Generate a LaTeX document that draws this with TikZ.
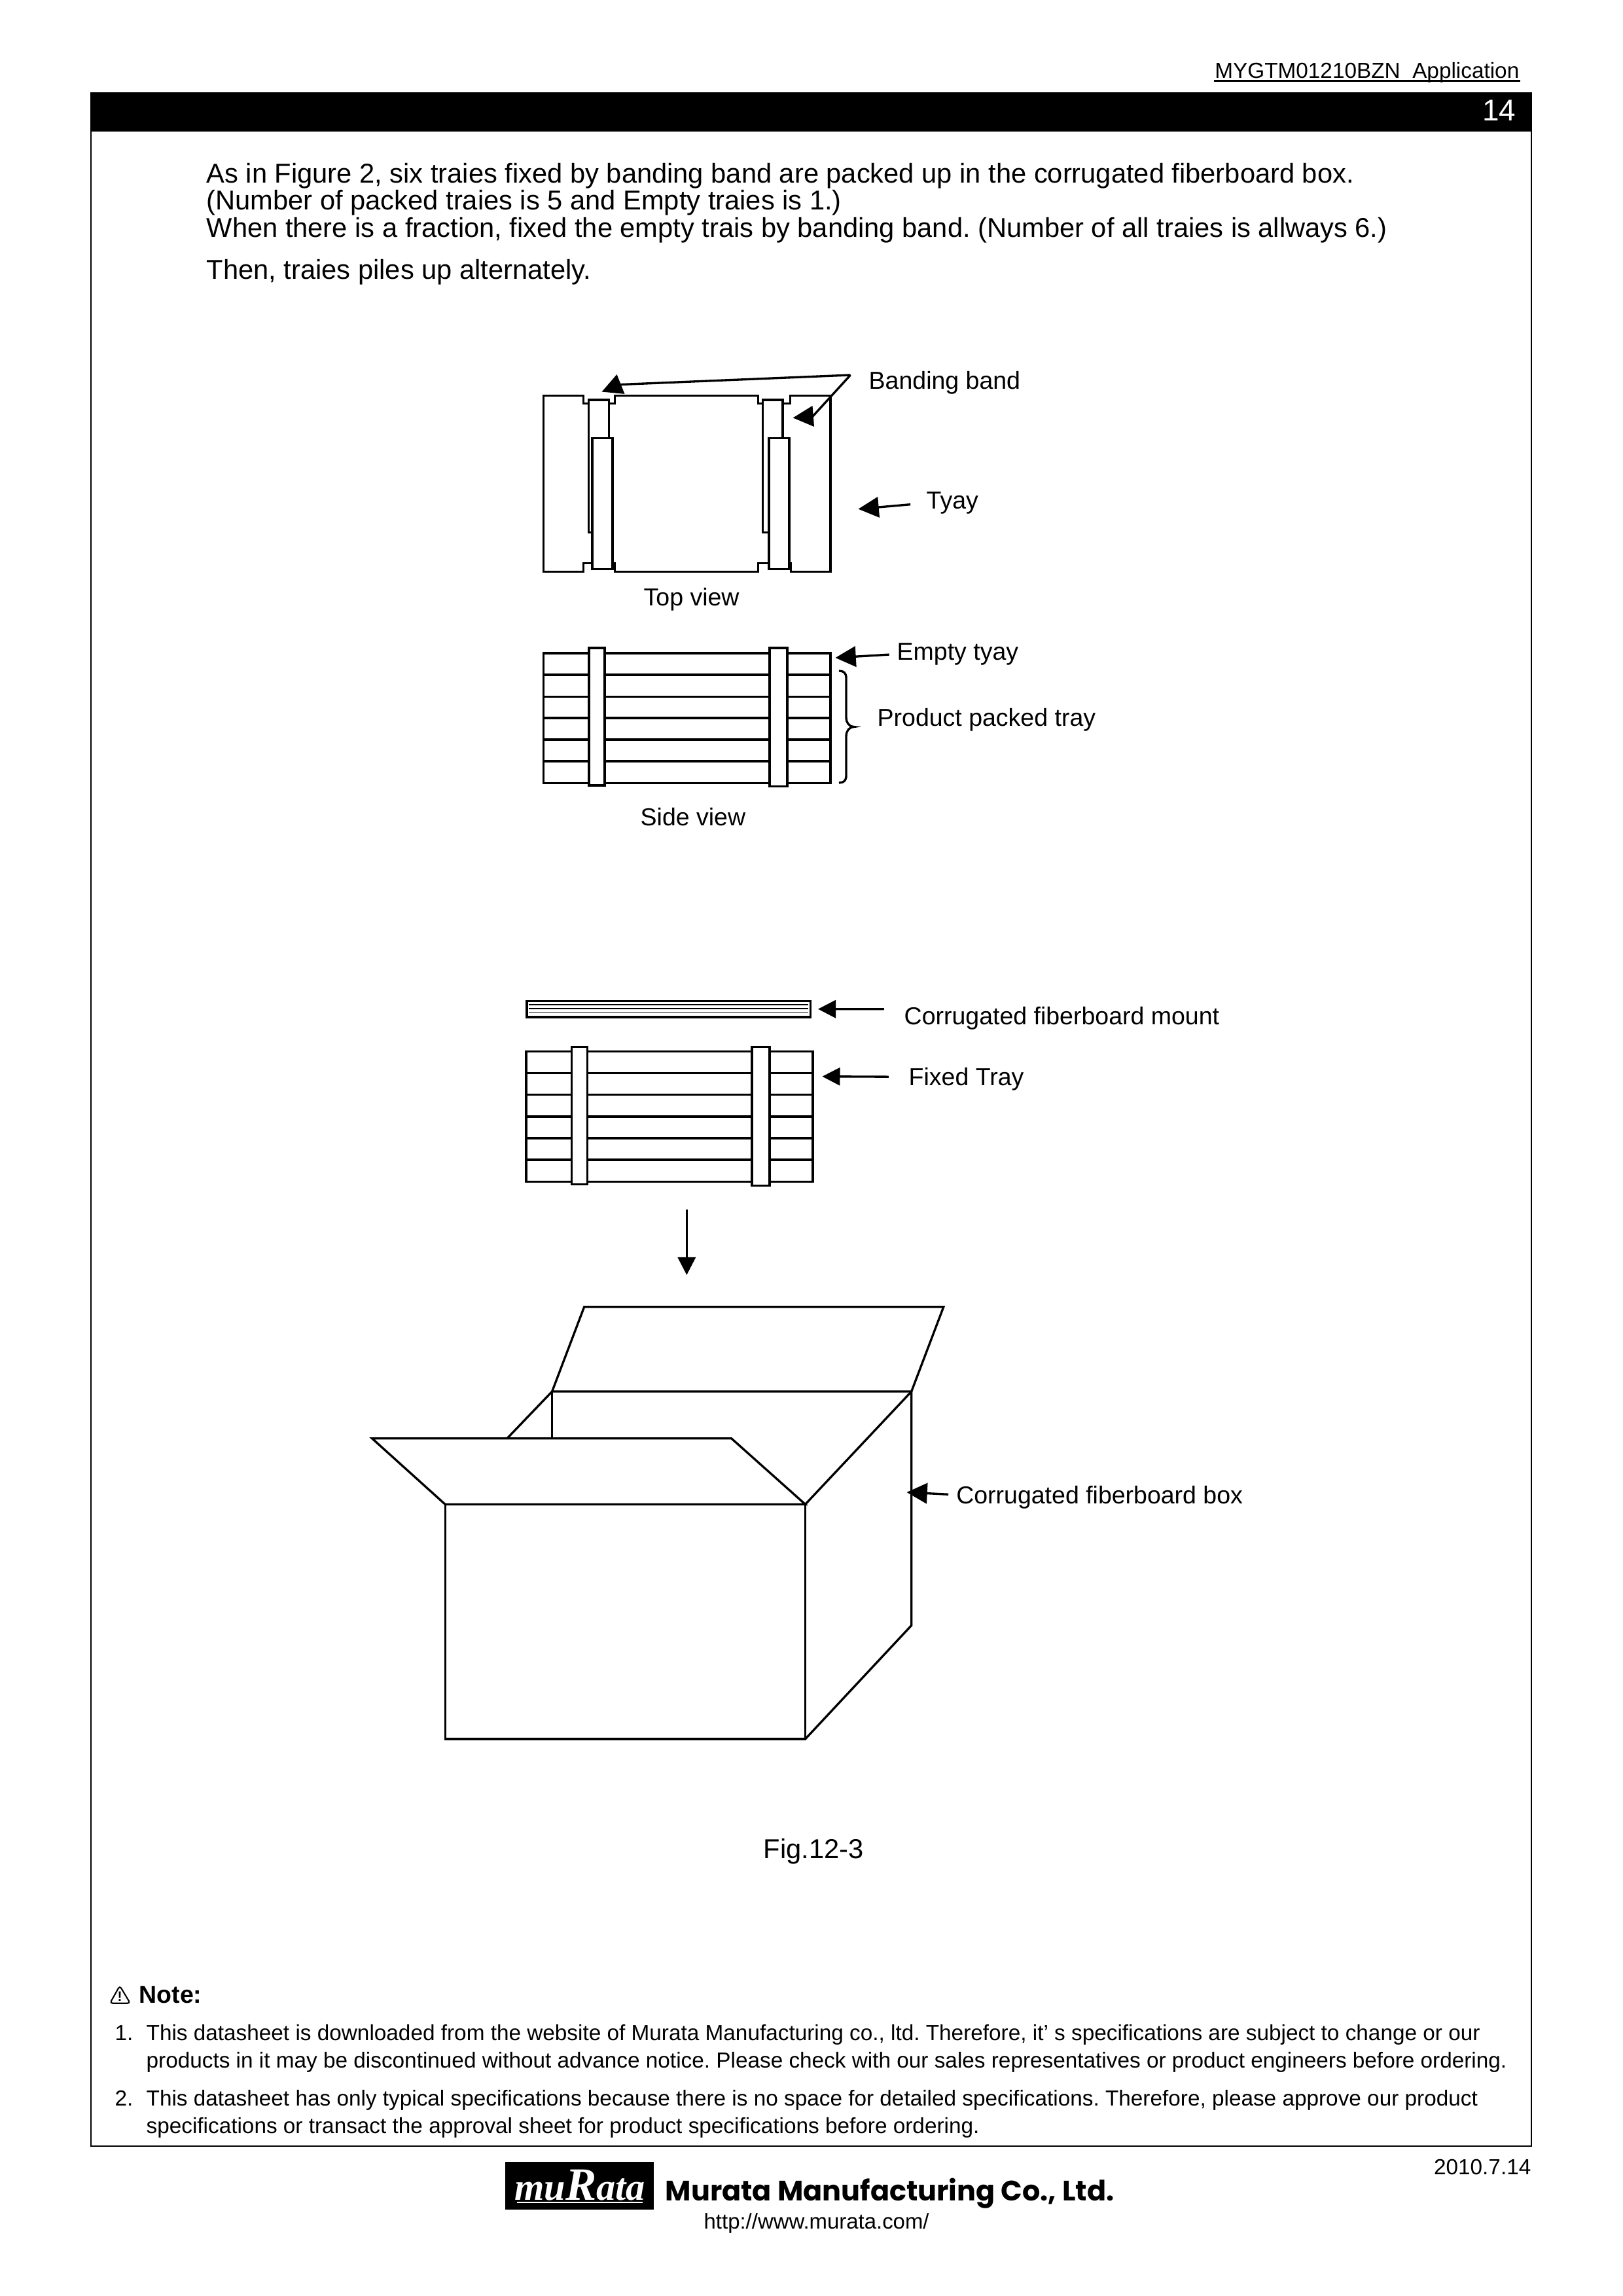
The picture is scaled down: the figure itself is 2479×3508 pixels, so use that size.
\documentclass[tikz,border=0pt]{standalone}
\usepackage{fontspec}
\setmainfont{Liberation Sans}
\newfontfamily\logofont{Liberation Serif}
\newfontfamily\brandfont{Poppins}
\usetikzlibrary{arrows.meta}
\begin{document}
\frenchspacing
\begin{tikzpicture}[x=0.24pt,y=-0.24pt,line width=.8pt,
        lbl/.style={anchor=base west,inner sep=0pt,font=\fontsize{9}{11}\selectfont},
        bodyline/.style={anchor=base west,inner sep=0pt,font=\fontsize{10}{12}\selectfont},
        noteline/.style={anchor=base west,inner sep=0pt,font=\fontsize{8}{10}\selectfont},
        band/.style={draw,fill=white},
        leader/.style={-{Triangle[length=6.5pt,width=6.5pt]}},
        bigleader/.style={-{Triangle[length=7.5pt,width=7.5pt]}}]
        \useasboundingbox (0,0) rectangle (2479,3508);

        % Header
        \node[anchor=base east,inner sep=0pt,font=\fontsize{8}{10}\selectfont] (partno) at (2323,120) {MYGTM01210BZN\ \ Application};
        \draw[line width=.6pt] ([yshift=-.9pt]partno.base west) -- ([yshift=-.9pt]partno.base east);
        \draw[line width=.6pt] (139,142) rectangle (2340,3279);
        \fill (139,142) rectangle (2340,201);
        \node[anchor=base east,inner sep=0pt,text=white,font=\fontsize{11}{13}\selectfont] (pageno) at (2318,185) {14};

        % Body text
        \node[bodyline] (bodya) at (314,280) {As in Figure 2, six traies fixed by banding band are packed up in the corrugated fiberboard box.};
        \node[bodyline] (bodyb) at (314,321) {(Number of packed traies is 5 and Empty traies is 1.)};
        \node[bodyline] (bodyc) at (314,363) {When there is a fraction, fixed the empty trais by banding band. (Number of all traies is allways 6.)};
        \node[bodyline] (bodyd) at (314,427) {Then, traies piles up alternately.};

        % Top view
        \draw (830.5,604.6) -- (891.4,604.6) -- (891.4,616.5) -- (939.6,616.5) -- (939.6,604.6) -- (1158.8,604.6) -- (1158.8,616.5) -- (1207.6,616.5) -- (1207.6,604.6) -- (1269,604.6) -- (1269,873.7) -- (1208.8,873.7) -- (1208.8,860.8) -- (1158.8,860.8) -- (1158.8,873.7) -- (939.6,873.7) -- (939.6,860.8) -- (891.4,860.8) -- (891.4,873.7) -- (830.5,873.7) -- cycle;
        \draw[band] (899.4,611) rectangle (930.4,813.5);
        \draw[band] (905,669.2) rectangle (936,869.7);
        \draw[band] (1165.7,611) rectangle (1196,813.5);
        \draw[band] (1174.9,669.2) rectangle (1206,869.7);
        \node[lbl] (topview) at (982,925.5) {Top view};

        % Labels of the top view
        \node[lbl] (banding) at (1326,594.6) {Banding band};
        \coordinate (apex) at (1299.5,573);
        \coordinate (bendl) at (947,587.6);
        \coordinate (tipl) at (919.5,598.6);
        \coordinate (bendr) at (1242,636);
        \coordinate (tipr) at (1211.6,638.4);
        \draw[bigleader] (apex) -- (bendl) -- (tipl);
        \draw[bigleader] (apex) -- (bendr) -- (tipr);
        \node[lbl] (tyay) at (1414,777.7) {Tyay};
        \coordinate (tyaytip) at (1311.5,777.7);
        \draw[bigleader,shorten <=5.5pt] (tyay.west) -- (tyaytip);

        % Side view
        \draw (830.5,998) rectangle (1269,1196.6);
        \foreach \y in {1031,1064.7,1097,1130,1163}
            \draw (830.5,\y) -- (1269,\y);
        \draw[band] (900,990) rectangle (924,1200);
        \draw[band] (1176,990) rectangle (1203,1201.5);
        \node[lbl] (sideview) at (977,1261) {Side view};
        \node[lbl] (empty) at (1369,1008.5) {Empty tyay};
        \coordinate (emptytip) at (1276.5,1005);
        \draw[bigleader,shorten <=2.5pt] (empty.west) -- (emptytip);
        \draw (1282,1025) .. controls (1289,1025) and (1293,1028) .. (1293,1036) -- (1293,1096) .. controls (1293,1104) and (1297,1110) .. (1305,1110.5) .. controls (1297,1111) and (1293,1117) .. (1293,1125) -- (1293,1185) .. controls (1293,1193) and (1289,1196) .. (1282,1196);
        \node[lbl] (packed) at (1339,1109.5) {Product packed tray};

        % Mount
        \draw (805,1529.3) rectangle (1238.6,1554);
        \foreach \y in {1535,1541,1547.3}
            \draw[line width=.3pt] (808,\y) -- (1235,\y);
        \node[lbl] (mount) at (1380,1565.5) {Corrugated fiberboard mount};
        \coordinate (mounttip) at (1250,1541.7);
        \draw[leader,shorten <=7pt] (mount.west) ++(0,-14) -- (mounttip);

        % Fixed tray
        \draw (804,1606.7) rectangle (1242,1805.3);
        \foreach \y in {1639.7,1672.7,1706,1739,1772}
            \draw (804,\y) -- (1242,\y);
        \draw[band] (873.8,1599.3) rectangle (897.5,1809.3);
        \draw[band] (1149,1599.3) rectangle (1176,1811.7);
        \node[lbl] (fixed) at (1387,1658) {Fixed Tray};
        \coordinate (fixedtip) at (1256.4,1644.7);
        \draw[leader,shorten <=7pt] (fixed.west) ++(0,-3) -- (fixedtip);

        % Down arrow
        \coordinate (downa) at (1049.3,1847.7);
        \coordinate (downb) at (1049.3,1948);
        \draw[leader] (downa) -- (downb);

        % Box
        \draw (892.7,1996.7) -- (1441.8,1996.7) -- (1392.7,2126) -- (843.6,2126) -- cycle;
        \draw (843.6,2126) -- (843.6,2197.8);
        \draw (843.6,2126) -- (774.8,2197.8);
        \draw (568.6,2197.8) -- (1117.7,2197.8) -- (1230.5,2298.4) -- (680.2,2298.4) -- cycle;
        \draw (680.2,2298.4) rectangle (1230.5,2657);
        \draw (1230.5,2298.4) -- (1392.7,2126) -- (1392.7,2483.4) -- (1230.5,2657);
        \node[lbl] (boxlbl) at (1459.6,2297.5) {Corrugated fiberboard box};
        \coordinate (boxtip) at (1385.5,2280);
        \draw[bigleader,shorten <=2.5pt] (boxlbl.west) ++(0,-4) -- (boxtip);
        \node[anchor=base,inner sep=0pt,font=\fontsize{10}{12}\selectfont] (figno) at (1243,2839) {Fig.12-3};

        % Note
        \draw[line width=.5pt,rounded corners=1pt] (183,3034) -- (168,3060.7) -- (199,3060.7) -- cycle;
        \node[inner sep=0pt,font=\fontsize{5}{6}\bfseries\selectfont] (warn) at (183,3050) {!};
        \node[anchor=base west,inner sep=0pt,font=\fontsize{9}{11}\bfseries\selectfont] (note) at (211,3060) {Note:};
        \node[noteline] (numa) at (174,3117) {1.};
        \node[noteline] (notea) at (222,3117) {This datasheet is downloaded from the website of Murata Manufacturing co., ltd. Therefore, it’ s specifications are subject to change or our};
        \node[noteline] (noteb) at (222,3159) {products in it may be discontinued without advance notice. Please check with our sales representatives or product engineers before ordering.};
        \node[noteline] (numb) at (174,3217) {2.};
        \node[noteline] (notec) at (222,3217) {This datasheet has only typical specifications because there is no space for detailed specifications. Therefore, please approve our product};
        \node[noteline] (noted) at (222,3259) {specifications or transact the approval sheet for product specifications before ordering.};

        % Footer
        \node[anchor=base east,inner sep=0pt,font=\fontsize{8}{10}\selectfont] (date) at (2341,3322) {2010.7.14};
        \fill (771.8,3302.7) rectangle (998.8,3376);
        \node[anchor=base,inner sep=0pt,text=white,font=\fontsize{14}{16}\logofont\bfseries\itshape\selectfont] (logo) at (886,3361) {mu{\fontsize{17}{20}\selectfont R}ata};
        \draw[white,line width=.5pt] (790,3365) -- (982,3365);
        \node[anchor=base west,inner sep=0pt,font=\fontsize{10.3}{12}\brandfont\bfseries\selectfont] (brand) at (1015,3362) {Murata Manufacturing Co., Ltd.};
        \node[anchor=base west,inner sep=0pt,font=\fontsize{7.9}{10}\selectfont] (url) at (1074,3405) {http://www.murata.com/};
    \end{tikzpicture}
\end{document}
